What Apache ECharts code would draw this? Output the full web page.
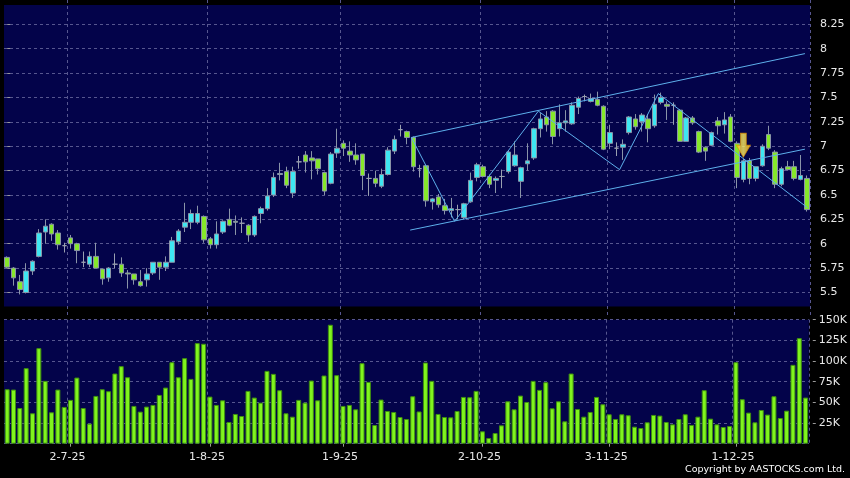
<!DOCTYPE html>
<html><head><meta charset="utf-8">
<script src="https://cdn.jsdelivr.net/npm/echarts@6/dist/echarts.min.js"></script>
<style>html,body{margin:0;padding:0;background:#000;}#c{width:850px;height:478px;}</style>
</head><body><div id="c"></div>
<script>
// ---- data ----
const dates = [
"2025-06-17","2025-06-18","2025-06-19","2025-06-20","2025-06-23","2025-06-24","2025-06-25","2025-06-26","2025-06-27","2025-06-30",
"2025-07-02","2025-07-03","2025-07-04","2025-07-07","2025-07-08","2025-07-09","2025-07-10","2025-07-11","2025-07-14","2025-07-15",
"2025-07-16","2025-07-17","2025-07-18","2025-07-21","2025-07-22","2025-07-23","2025-07-24","2025-07-25","2025-07-28","2025-07-29",
"2025-07-30","2025-07-31","2025-08-01","2025-08-04","2025-08-05","2025-08-06","2025-08-07","2025-08-08","2025-08-11","2025-08-12",
"2025-08-13","2025-08-14","2025-08-15","2025-08-18","2025-08-19","2025-08-20","2025-08-21","2025-08-22","2025-08-25","2025-08-26",
"2025-08-27","2025-08-28","2025-08-29","2025-09-01","2025-09-02","2025-09-03","2025-09-04","2025-09-05","2025-09-08","2025-09-09",
"2025-09-10","2025-09-11","2025-09-12","2025-09-15","2025-09-16","2025-09-17","2025-09-18","2025-09-19","2025-09-22","2025-09-23",
"2025-09-24","2025-09-25","2025-09-26","2025-09-29","2025-09-30","2025-10-02","2025-10-03","2025-10-06","2025-10-08","2025-10-09",
"2025-10-10","2025-10-13","2025-10-14","2025-10-15","2025-10-16","2025-10-17","2025-10-20","2025-10-21","2025-10-22","2025-10-23",
"2025-10-24","2025-10-27","2025-10-28","2025-10-30","2025-10-31","2025-11-03","2025-11-04","2025-11-05","2025-11-06","2025-11-07",
"2025-11-10","2025-11-11","2025-11-12","2025-11-13","2025-11-14","2025-11-17","2025-11-18","2025-11-19","2025-11-20","2025-11-21",
"2025-11-24","2025-11-25","2025-11-26","2025-11-27","2025-11-28","2025-12-01","2025-12-02","2025-12-03","2025-12-04","2025-12-05",
"2025-12-08","2025-12-09","2025-12-10","2025-12-11","2025-12-12","2025-12-15","2025-12-16"];

const openP = [5.86,5.75,5.61,5.50,5.72,5.87,6.12,6.20,6.11,5.98, 6.06,6.00,5.81,5.79,5.87,5.74,5.65,5.79,5.79,5.70,
5.69,5.61,5.63,5.70,5.81,5.76,5.81,6.02,6.17,6.22, 6.22,6.28,6.05,5.99,6.12,6.25,6.23,6.21,6.19,6.09,
6.31,6.36,6.50,6.71,6.74,6.52,6.84,6.91,6.88,6.87, 6.73,6.62,6.93,7.03,6.95,6.91,6.92,6.67,6.67,6.59,
6.71,6.95,7.17,7.15,7.09,6.77,6.80,6.43,6.48,6.39, 6.34,6.35,6.27,6.43,6.68,6.79,6.69,6.65,6.69,6.74,
6.80,6.64,6.82,6.88,7.18,7.30,7.36,7.18,7.24,7.23, 7.40,7.51,7.46,7.48,7.41,7.03,6.98,6.99,7.14,7.28,
7.25,7.28,7.21,7.45,7.43,7.42,7.37,7.05,7.29,7.15, 6.99,7.01,7.26,7.22,7.30,7.03,6.66,6.85,6.67,6.80,
7.12,6.94,6.61,6.79,6.79,6.66,6.67];
const highP = [5.87,5.76,5.68,5.80,5.83,6.15,6.25,6.21,6.14,6.01, 6.09,6.01,5.92,5.92,6.01,5.74,5.76,5.90,5.86,5.73,
5.69,5.73,5.75,5.81,5.81,5.87,6.07,6.15,6.42,6.35, 6.39,6.29,6.07,6.23,6.24,6.36,6.29,6.27,6.20,6.29,
6.38,6.57,6.73,6.83,6.79,6.79,6.90,6.95,6.95,6.87, 6.74,6.94,7.18,7.06,7.05,7.03,6.92,6.72,6.75,6.77,
6.99,7.11,7.22,7.16,7.10,6.81,6.81,6.47,6.51,6.46, 6.47,6.40,6.42,6.73,6.83,6.81,6.71,6.69,6.76,6.96,
7.05,6.79,7.03,7.19,7.34,7.36,7.37,7.43,7.37,7.45, 7.51,7.53,7.54,7.56,7.42,7.22,7.04,7.07,7.31,7.33,
7.34,7.33,7.53,7.55,7.46,7.45,7.38,7.30,7.31,7.16, 7.00,7.15,7.30,7.35,7.33,7.05,6.87,6.88,6.79,7.02,
7.21,6.96,6.79,6.85,6.85,6.91,6.70];
const lowP = [5.75,5.57,5.48,5.49,5.68,5.86,6.00,6.03,5.94,5.91, 5.95,5.80,5.76,5.76,5.75,5.58,5.61,5.75,5.66,5.54,
5.58,5.56,5.56,5.68,5.63,5.72,5.81,5.99,6.12,6.15, 6.20,6.01,5.95,5.95,6.10,6.18,6.09,6.11,6.02,6.07,
6.21,6.34,6.48,6.65,6.57,6.47,6.77,6.73,6.66,6.71, 6.50,6.61,6.88,6.90,6.84,6.81,6.55,6.49,6.58,6.57,
6.70,6.92,7.10,7.02,6.74,6.68,6.38,6.35,6.37,6.30, 6.27,6.25,6.25,6.42,6.64,6.68,6.57,6.52,6.57,6.72,
6.79,6.47,6.75,6.86,7.09,7.15,7.02,7.10,7.15,7.22, 7.33,7.46,7.45,7.41,6.96,6.97,6.90,6.86,7.12,7.17,
7.15,7.04,7.19,7.43,7.27,7.22,7.05,7.05,7.22,6.93, 6.85,7.00,7.12,7.13,7.04,6.57,6.63,6.61,6.64,6.79,
6.96,6.57,6.59,6.75,6.65,6.65,6.33];
const closeP = [5.76,5.65,5.53,5.72,5.82,6.11,6.18,6.10,5.99,5.98, 6.00,5.93,5.81,5.87,5.75,5.64,5.75,5.79,5.70,5.69,
5.63,5.57,5.69,5.81,5.76,5.81,6.03,6.13,6.22,6.31, 6.31,6.04,5.99,6.10,6.23,6.19,6.22,6.21,6.09,6.28,
6.36,6.49,6.68,6.72,6.60,6.74,6.84,6.84,6.85,6.77, 6.54,6.92,6.98,6.98,6.91,6.86,6.70,6.67,6.62,6.71,
6.96,7.07,7.17,7.09,6.79,6.77,6.44,6.46,6.40,6.34, 6.36,6.35,6.41,6.65,6.81,6.69,6.61,6.67,6.69,6.94,
6.91,6.78,6.85,7.18,7.28,7.22,7.10,7.24,7.26,7.42, 7.49,7.51,7.49,7.42,6.97,7.14,6.98,7.02,7.30,7.20,
7.32,7.18,7.43,7.50,7.41,7.42,7.05,7.29,7.24,6.94, 6.95,7.14,7.21,7.27,7.05,6.68,6.85,6.67,6.79,7.00,
6.98,6.61,6.77,6.76,6.67,6.70,6.35];
const volumeK = [65.9,65.5,43.2,91.4,36.8,115.6,76,38,65.5,44.5, 53,80,43.2,24.3,57.8,65.9,63.5,84.9,93.8,80.4,
45.7,38.8,44.9,46.9,59,67.9,98.6,80.4,103.5,78.4, 121.7,120.9,57,46.9,52.5,26.3,36,33.5,63.9,55.8,
49.7,88.1,84.5,64.7,36.8,32.7,53,49.7,76.4,52.5, 82.5,143.9,82.9,45.7,46.9,41.6,97.4,74.8,22.6,53.4,
39.6,38.4,32.3,29.9,57.4,39,98.2,76,36,32.3, 31.9,39.6,56.6,56.2,63.9,15,6.9,12.9,22.2,51.3,
41.6,58.2,50.5,76,65.1,74.4,42.8,51.3,27.1,84.9, 42,32.7,38.4,56.6,47.7,35.6,29.9,35.6,34.4,20.6,
19,25.9,34.8,34,26.3,23.4,29.9,35.6,22.6,32.7, 64.7,30.3,23.4,20.2,21.4,98.6,53.8,37.6,25.9,40.8,
35.2,57.4,31.1,40,95.4,127.7,55.8];

// price tick settings (labels at every 0.25) and volume ticks (every 25K)
const priceAxis = {min: 5.25, max: 8.5, step: 0.25};
const volAxis = {min: 0, max: 150000, step: 25000};

// drawn annotations: [trading-day index, price]
const upperChannel = [[63.7, 7.09], [125.7, 7.95]];
const lowerChannel = [[63.5, 6.14], [125.7, 6.97]];
const zigzag = [[63.7, 7.09], [70.5, 6.23], [83.7, 7.36], [96.5, 6.76], [102.6, 7.54], [126.1, 6.37]];
const arrowMark = [[116, 7.01]];

// ---- chart ----
const NAVY = '#03034a';
const GRIDLINE = {color: '#56568f', type: [3, 3], width: 1};
const FONT = 'DejaVu Sans';
const isMonthStart = (i) => i > 0 && dates[i].slice(5, 7) !== dates[i - 1].slice(5, 7);
const fmtDate = (v) => { const p = v.split('-'); return (+p[2]) + '-' + (+p[1]) + '-' + p[0].slice(2); };

const candleData = dates.map((d, i) => [openP[i], closeP[i], lowP[i], highP[i]]);
const volData = volumeK.map(v => Math.round(v * 1000));

const chart = echarts.init(document.getElementById('c'), null, {renderer: 'canvas'});
const lineSeries = (data) => ({
  type: 'line', xAxisIndex: 2, yAxisIndex: 0, data: data, symbol: 'none', silent: true, z: 4,
  lineStyle: {color: '#5eb0ec', width: 1}
});
chart.setOption({
  backgroundColor: '#000000',
  animation: false,
  graphic: {elements: [
    {type: 'rect', z: -10, silent: true, shape: {x: 4, y: 5, width: 806, height: 301.5}, style: {fill: NAVY}},
    {type: 'text', z: 10, right: 5, top: 465, style: {text: 'Copyright by AASTOCKS.com Ltd.', fill: '#ffffff', font: '9.5px "DejaVu Sans"'}}
  ]},
  grid: [
    {left: 4, right: 40, top: -2.24, bottom: 161.15},
    {left: 4, right: 40, top: 319.7, bottom: 34.3, show: true, backgroundColor: NAVY, borderWidth: 0}
  ],
  xAxis: [
    {type: 'category', gridIndex: 0, data: dates, boundaryGap: true,
     axisLine: {show: false}, axisTick: {show: false}, axisLabel: {show: false},
     splitLine: {show: true, interval: (i) => isMonthStart(i), lineStyle: GRIDLINE}},
    {type: 'category', gridIndex: 1, data: dates, boundaryGap: true,
     axisLine: {show: false},
     axisTick: {show: true, alignWithLabel: true, interval: (i) => isMonthStart(i), length: 3, lineStyle: {color: '#9a9a9a'}},
     axisLabel: {interval: (i) => isMonthStart(i), formatter: fmtDate, color: '#e8e8e8', fontSize: 11, fontFamily: FONT, margin: 8, padding: [0, 6, 0, 0]},
     splitLine: {show: true, interval: (i) => isMonthStart(i), lineStyle: GRIDLINE}},
    {type: 'value', gridIndex: 0, min: -0.5, max: dates.length - 0.5, show: false}
  ],
  yAxis: [
    {type: 'value', gridIndex: 0, position: 'right', offset: 4, min: priceAxis.min, max: priceAxis.max, interval: priceAxis.step,
     axisLine: {show: false}, axisTick: {show: true, length: 3, lineStyle: {color: '#9a9a9a'}},
     axisLabel: {showMinLabel: false, showMaxLabel: false, margin: 6, color: '#e8e8e8', fontSize: 11, fontFamily: FONT},
     splitLine: {show: true, showMinLine: false, showMaxLine: false, lineStyle: GRIDLINE}},
    {type: 'value', gridIndex: 1, position: 'right', offset: 4, min: volAxis.min, max: volAxis.max, interval: volAxis.step,
     axisLine: {show: false}, axisTick: {show: true, length: 3, lineStyle: {color: '#9a9a9a'}},
     axisLabel: {showMinLabel: false, margin: 6, color: '#e8e8e8', fontSize: 11, fontFamily: FONT,
       formatter: (v) => v === 0 ? '' : (v / 1000) + 'K'},
     splitLine: {show: true, lineStyle: GRIDLINE}}
  ],
  series: [
    {type: 'candlestick', xAxisIndex: 0, yAxisIndex: 0, data: candleData, barWidth: 5, z: 3,
     itemStyle: {color: '#3ee6f2', color0: '#86e82a', borderColor: '#8a94a8', borderColor0: '#8a94a8', borderColorDoji: '#9aa0b0', borderWidth: 1}},
    {type: 'bar', xAxisIndex: 1, yAxisIndex: 1, data: volData, barWidth: 5,
     itemStyle: {color: '#80f41e', borderColor: '#3f8f10', borderWidth: 1}},
    lineSeries(upperChannel),
    lineSeries(lowerChannel),
    lineSeries(zigzag),
    {type: 'scatter', xAxisIndex: 0, yAxisIndex: 0, data: arrowMark, z: 6, silent: true,
     symbol: 'path://M4,0H10V11H14L7,22L0,11H4Z', symbolSize: [14, 24],
     itemStyle: {color: new echarts.graphic.LinearGradient(0, 0, 1, 0, [
       {offset: 0, color: '#ffb800'}, {offset: 0.5, color: '#fff066'}, {offset: 1, color: '#ffb800'}]),
       borderColor: '#e09000', borderWidth: 0.8}}
  ]
});
</script>
</body></html>
